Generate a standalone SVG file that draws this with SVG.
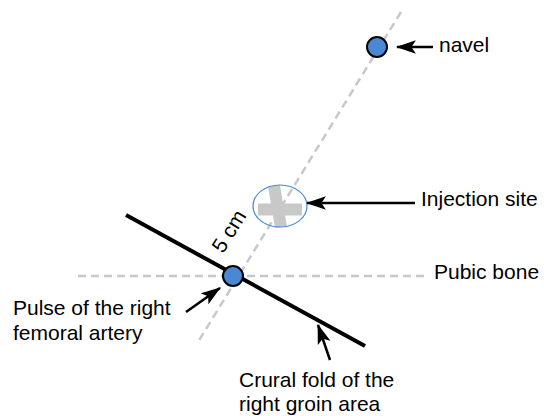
<svg xmlns="http://www.w3.org/2000/svg" width="544" height="416" viewBox="0 0 544 416">
<style>
text{font-family:"Liberation Sans",Arial,sans-serif;font-size:21px;fill:#000}
.guide{stroke:#c8c8c8;stroke-width:2.5;stroke-dasharray:8 5;fill:none}
.arrow{stroke:#000;stroke-width:2.5;fill:none;marker-end:url(#ah)}
.dot{fill:#4a88d4;stroke:#000;stroke-width:2}
</style>
<defs>
<marker id="ah" markerUnits="userSpaceOnUse" markerWidth="20" markerHeight="14" viewBox="0 0 18 12" refX="17" refY="6" orient="auto">
<path d="M0,0 L18,6 L0,12 L4,6 Z" fill="#000"/>
</marker>
</defs>
<rect width="544" height="416" fill="#fff"/>
<g id="guides">
<line class="guide" x1="401" y1="12" x2="198" y2="342"/>
<line class="guide" x1="78" y1="276" x2="426" y2="276"/>
</g>
<g id="crural-fold">
<line x1="126" y1="215" x2="365" y2="346" stroke="#000" stroke-width="4"/>
</g>
<g id="injection-site">
<line x1="258" y1="209.5" x2="302" y2="209.5" stroke="#c8c8c8" stroke-width="12"/>
<line x1="274" y1="186" x2="281" y2="227" stroke="#c8c8c8" stroke-width="12"/>
<ellipse cx="280" cy="206" rx="27" ry="21" fill="none" stroke="#4a88d4" stroke-width="1.2"/>
</g>
<g id="navel">
<circle class="dot" cx="377" cy="47" r="10"/>
</g>
<g id="pulse">
<circle class="dot" cx="233" cy="276" r="10"/>
</g>
<g id="connectors">
<line class="arrow" x1="433" y1="47" x2="397" y2="47"/>
<line class="arrow" x1="415" y1="203" x2="307" y2="203"/>
<line class="arrow" x1="186" y1="312" x2="220" y2="288"/>
<line class="arrow" x1="330" y1="360" x2="318" y2="325"/>
</g>
<g id="labels">
<text x="439" y="52">navel</text>
<text x="421" y="206">Injection site</text>
<text x="434" y="279">Pubic bone</text>
<text x="13" y="315">Pulse of the right</text>
<text x="13" y="340">femoral artery</text>
<text x="239" y="387">Crural fold of the</text>
<text x="239" y="411">right groin area</text>
<text x="0" y="0" text-anchor="middle" transform="translate(235,235) rotate(-58)">5 cm</text>
</g>
</svg>
